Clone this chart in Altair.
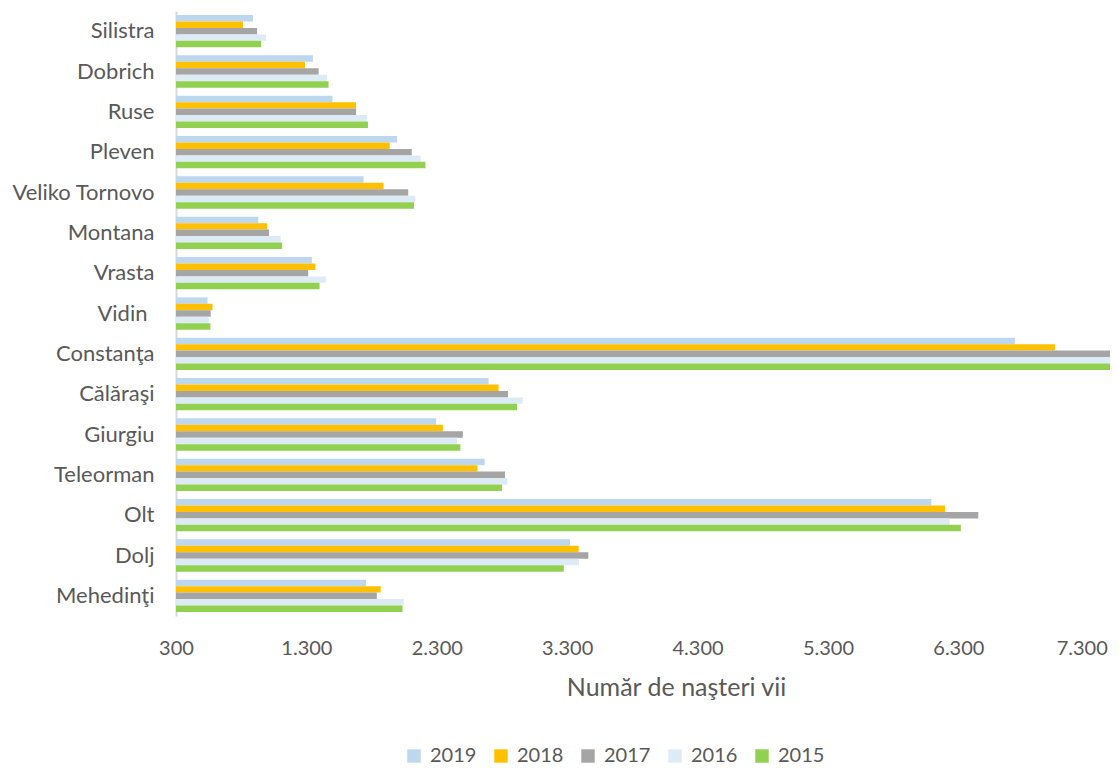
import altair as alt
import pandas as pd

regions = ["Silistra", "Dobrich", "Ruse", "Pleven", "Veliko Tornovo", "Montana",
           "Vrasta", "Vidin", "Constanţa", "Călăraşi", "Giurgiu", "Teleorman",
           "Olt", "Dolj", "Mehedinţi"]
years = ["2019", "2018", "2017", "2016", "2015"]
v2019 = [890, 1350, 1500, 1996, 1739, 931, 1342, 542, 6733, 2697, 2295, 2667, 6093, 3322, 1758]
v2018 = [813, 1289, 1681, 1939, 1892, 999, 1369, 580, 7041, 2774, 2347, 2612, 6198, 3388, 1870]
v2017 = [922, 1394, 1681, 2108, 2081, 1013, 1314, 566, 7600, 2846, 2500, 2823, 6453, 3462, 1840]
v2016 = [991, 1459, 1766, 2177, 2136, 1103, 1448, 552, 7560, 2958, 2456, 2842, 6234, 3391, 2046]
v2015 = [953, 1470, 1772, 2213, 2125, 1114, 1401, 564, 7488, 2916, 2481, 2801, 6319, 3274, 2037]
colors = ["#BDD7EE", "#FFC000", "#A5A5A5", "#DDEBF7", "#92D050"]
tick_values = [300, 1300, 2300, 3300, 4300, 5300, 6300, 7300]

series = [v2019, v2018, v2017, v2016, v2015]
rows = []
for y, vals in zip(years, series):
    for r, v in zip(regions, vals):
        rows.append({"region": r, "year": y, "value": v})
df = pd.DataFrame(rows)

FONT = "Lato"
TXT = "#595959"

chart = alt.Chart(df).mark_bar(clip=True).encode(
    x=alt.X("value:Q",
            scale=alt.Scale(domain=[300, 7463], zero=False, nice=False),
            axis=alt.Axis(values=tick_values, grid=False, domain=False, ticks=False,
                          labelExpr="replace(format(datum.value, ','), ',', '.')",
                          labelFontSize=20, labelColor=TXT, labelFont=FONT,
                          labelPadding=22, labelFlush=False, labelOverlap=False,
                          labelOffset={"condition": {"test": "datum.value == 7300", "value": -7},
                                       "value": 0},
                          title="Număr de naşteri vii", titleFontSize=25,
                          titleFont=FONT, titleColor=TXT, titleFontWeight="normal",
                          titlePadding=17, titleX=500)),
    x2=alt.datum(300),
    y=alt.Y("region:N", sort=regions,
            scale=alt.Scale(paddingInner=0.2, paddingOuter=0.1),
            axis=alt.Axis(title=None, ticks=False, domain=True, domainColor="#D9D9D9",
                          domainWidth=2, labelFontSize=22, labelColor=TXT,
                          labelFont=FONT,
                          labelPadding={"condition": {"test": "datum.value == 'Vidin'", "value": 29},
                                        "value": 22})),
    yOffset=alt.YOffset("year:N", sort=years, scale=alt.Scale(paddingInner=0)),
    color=alt.Color("year:N", sort=years,
                    scale=alt.Scale(domain=years, range=colors),
                    legend=alt.Legend(title=None, orient="none", direction="horizontal",
                                      legendX=228, legendY=735,
                                      symbolType="square", symbolSize=180,
                                      symbolStrokeWidth=0,
                                      labelFontSize=20, labelColor=TXT, labelFont=FONT,
                                      labelOffset=6, columnPadding=14)),
).properties(
    width=934,
    height=605,
    autosize=alt.AutoSizeParams(type="none"),
    padding={"left": 168, "top": 3, "right": 0, "bottom": 152},
).configure_view(stroke=None)

chart.save("out.html", embed_options={"renderer": "svg", "actions": False})
